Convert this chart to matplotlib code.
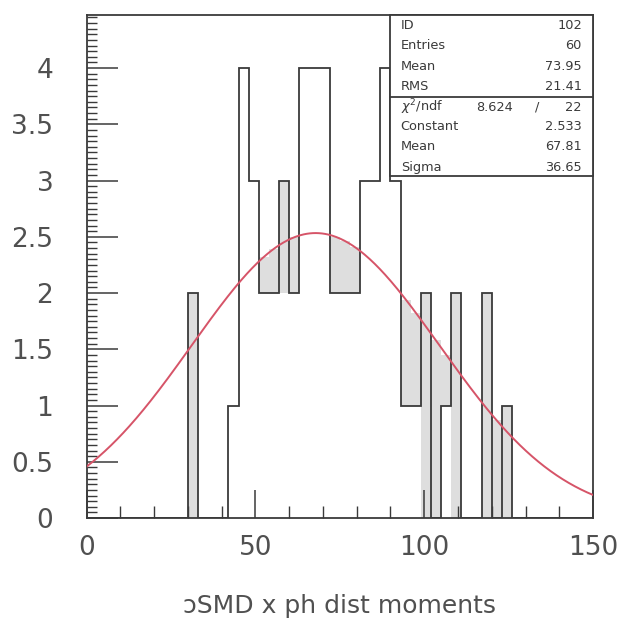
# PAW-style histogram with gaussian fit and stat box
import numpy as np
import matplotlib
matplotlib.use('Agg')
import matplotlib.pyplot as plt
from matplotlib.ticker import MultipleLocator, FixedLocator
from matplotlib.patches import Rectangle

# %% data: 50 bins of width 3 between 0 and 150
X_MIN, X_MAX, N_BINS = 0, 150, 50
counts = [0, 0, 0, 0, 0, 0, 0, 0, 0, 0,
          2, 0, 0, 0, 1, 4, 3, 2, 2, 3,
          2, 4, 4, 4, 2, 2, 2, 3, 3, 4,
          3, 1, 1, 2, 0, 1, 2, 0, 0, 2,
          0, 1, 0, 0, 0, 0, 0, 0, 0, 0]
# light grey band drawn in some bins (lower / upper edge)
shade_lo = [0, 0, 0, 0, 0, 0, 0, 0, 0, 0,
            0, 0, 0, 0, 0, 0, 0, 2, 2, 2,
            2, 0, 0, 0, 2, 2, 2, 0, 0, 0,
            0, 1, 1, 0, 0, 1, 0, 0, 0, 0,
            0, 0, 0, 0, 0, 0, 0, 0, 0, 0]
shade_hi = [0, 0, 0, 0, 0, 0, 0, 0, 0, 0,
            2, 0, 0, 0, 0, 0, 0, 2.32, 2.39, 3,
            2.5, 0, 0, 0, 2.5, 2.46, 2.41, 0, 0, 0,
            0, 1.94, 1.82, 2, 1.58, 1.45, 2, 0, 0, 2,
            0.87, 1, 0, 0, 0, 0, 0, 0, 0, 0]

# fit result (gaussian) and statistics box
FIT_CONST, FIT_MEAN, FIT_SIGMA = 2.533, 67.81, 36.65
stats_top = [('ID', '102'), ('Entries', '60'), ('Mean', '73.95'), ('RMS', '21.41')]
stats_fit = [('Constant', '2.533'), ('Mean', '67.81'), ('Sigma', '36.65')]
CHI2, NDF = '8.624', '22'
XLABEL = 'ɔSMD x ph dist moments'

INK = '#3a3a3a'
LABEL = '#505050'
GREY = '#dedede'
RED = '#d65468'

# %% figure
fig = plt.figure(figsize=(6.23, 6.31), dpi=100)
ax = fig.add_axes([0.139, 0.179, 0.813, 0.797])

edges = np.linspace(X_MIN, X_MAX, N_BINS + 1)
# grey band as one stepped polygon (no seams between bins)
ax.fill_between(edges, shade_lo + shade_lo[-1:], shade_hi + shade_hi[-1:],
                step='post', color=GREY, lw=0, zorder=1)
ax.stairs(counts, edges, baseline=0, color=INK, lw=1.3, zorder=2)

xf = np.linspace(X_MIN, X_MAX, 500)
yf = FIT_CONST * np.exp(-0.5 * ((xf - FIT_MEAN) / FIT_SIGMA) ** 2)
ax.plot(xf, yf, color=RED, lw=1.4, zorder=3)

ax.set_xlim(X_MIN, X_MAX)
ax.set_ylim(0, 4.47)

# ticks: inward, left and bottom only
ax.xaxis.set_major_locator(FixedLocator([0, 50, 100, 150]))
ax.xaxis.set_minor_locator(MultipleLocator(10))
ax.yaxis.set_major_locator(MultipleLocator(0.5))
ax.yaxis.set_minor_locator(MultipleLocator(0.05))
ax.yaxis.set_major_formatter(plt.FuncFormatter(lambda v, p: f'{v:g}'))
ax.tick_params(axis='x', which='major', direction='in', length=20,
               width=1.1, color=INK, labelsize=19, labelcolor=LABEL, pad=12)
ax.tick_params(axis='x', which='minor', direction='in', length=9,
               width=1.0, color=INK)
ax.tick_params(axis='y', which='major', direction='in', length=22,
               width=1.1, color=INK, labelsize=19, labelcolor=LABEL, pad=24)
ax.tick_params(axis='y', which='minor', direction='in', length=7,
               width=1.0, color=INK)
for sp in ax.spines.values():
    sp.set_color(INK)
    sp.set_linewidth(1.3)

ax.set_xlabel(XLABEL, fontsize=18, color=LABEL, labelpad=24)

# %% stat box
FS = 9.3
bx0, by0 = 0.599, 0.680
ax.add_patch(Rectangle((bx0, by0), 1 - bx0, 1 - by0, transform=ax.transAxes,
                       facecolor='white', edgecolor=INK, lw=1.3,
                       zorder=5, clip_on=False))
ax.plot([bx0, 1], [0.837, 0.837], transform=ax.transAxes, color=INK,
        lw=1.3, zorder=6, clip_on=False)

row_y = [0.980, 0.940, 0.897, 0.859]
for (name, val), yy in zip(stats_top, row_y):
    ax.text(0.620, yy, name, transform=ax.transAxes, fontsize=FS,
            color=INK, va='center', ha='left', zorder=7)
    ax.text(0.978, yy, val, transform=ax.transAxes, fontsize=FS,
            color=INK, va='center', ha='right', zorder=7)

ax.text(0.620, 0.817, r'$\chi^2$/ndf', transform=ax.transAxes, fontsize=FS,
        color=INK, va='center', ha='left', zorder=7)
ax.text(0.842, 0.817, CHI2, transform=ax.transAxes, fontsize=FS,
        color=INK, va='center', ha='right', zorder=7)
ax.text(0.889, 0.817, '/', transform=ax.transAxes, fontsize=FS,
        color=INK, va='center', ha='center', zorder=7)
ax.text(0.978, 0.817, NDF, transform=ax.transAxes, fontsize=FS,
        color=INK, va='center', ha='right', zorder=7)

row_y = [0.778, 0.738, 0.698]
for (name, val), yy in zip(stats_fit, row_y):
    ax.text(0.620, yy, name, transform=ax.transAxes, fontsize=FS,
            color=INK, va='center', ha='left', zorder=7)
    ax.text(0.978, yy, val, transform=ax.transAxes, fontsize=FS,
            color=INK, va='center', ha='right', zorder=7)

fig.savefig('out.png', dpi=100)
